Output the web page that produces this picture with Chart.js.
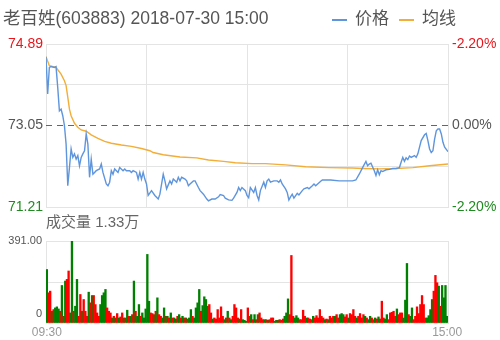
<!DOCTYPE html>
<html>
<head>
<meta charset="utf-8">
<script src="https://cdn.jsdelivr.net/npm/chart.js@4.4.0/dist/chart.umd.min.js"></script>
<style>
  body { margin: 0; background: #fff; font-family: "Liberation Sans", "Noto Sans CJK SC", sans-serif; }
  #wrap { position: relative; width: 500px; height: 340px; overflow: hidden; }
  #title { position: absolute; left: 3px; top: 4px; font-size: 17.5px; color: #555; white-space: nowrap; }
  #legend { position: absolute; left: 332px; top: 4px; font-size: 17px; color: #555; white-space: nowrap; }
  #legend span.key { display: inline-block; width: 15px; height: 2px; vertical-align: middle; margin-right: 8px; }
  #legend span.item { margin-right: 10px; }
  #priceBox { position: absolute; left: 0; top: 0; width: 500px; height: 222px; }
  #volBox { position: absolute; left: 0; top: 212px; width: 500px; height: 128px; }
</style>
</head>
<body>
<div id="wrap">
  <div id="priceBox"><canvas id="priceChart"></canvas></div>
  <div id="volBox"><canvas id="volChart"></canvas></div>
  <div id="title"></div>
  <div id="legend"></div>
</div>
<script>
const chartTitle = "老百姓(603883) 2018-07-30 15:00";
const seriesNames = ["价格", "均线"];
const volumeTitle = "成交量 1.33万";
const timeTicks = ["09:30", "15:00"];

const prevClose = 73.05;
const priceTicks = [71.21, 72.13, 73.05, 73.97, 74.89];
const priceTickLabels = ["71.21", "", "73.05", "", "74.89"];
const pctTickLabels = ["-2.20%", "", "0.00%", "", "-2.20%"];

// minutes after 09:30 (lunch break removed)
const priceMinutes = [0, 1, 2, 3, 5, 6, 7, 8, 9, 10, 11, 12, 13, 14, 15, 16, 17, 18, 19, 20,
  21, 22, 23, 24, 25, 26, 27, 28, 29, 30, 32, 33, 34, 36, 37, 38, 39, 40, 41, 43,
  44, 46, 47, 48, 50, 51, 52, 54, 55, 56, 57, 58, 59, 60, 61, 63, 65, 67, 68, 70,
  71, 72, 74, 75, 76, 78, 79, 80, 81, 83, 84, 85, 86, 88, 89, 91, 92, 94, 96, 97,
  99, 101, 103, 104, 106, 107, 109, 111, 112, 114, 115, 116, 117, 119, 120, 121, 122, 124, 125, 126,
  127, 128, 130, 131, 132, 133, 134, 136, 138, 139, 140, 141, 143, 144, 145, 146, 147, 148, 150, 151,
  153, 154, 156, 157, 159, 160, 161, 164, 165, 170, 175, 180, 183, 185, 187, 189, 191, 192, 193, 194,
  196, 197, 198, 199, 200, 201, 203, 205, 207, 209, 211, 212, 213, 214, 215, 216, 217, 218, 220, 221,
  222, 223, 224, 226, 227, 228, 229, 230, 231, 232, 233, 234, 235, 236, 237, 238, 240];
const prices = [74.60, 73.76, 74.36, 74.38, 74.36, 74.38, 73.91, 73.38, 73.42, 73.27, 73.05, 72.63, 71.69, 72.10, 72.52, 72.33, 72.41, 72.29, 72.37, 72.14,
  72.33, 72.41, 72.48, 72.86, 72.63, 71.88, 72.29, 71.95, 71.99, 72.03, 72.07, 72.18, 71.99, 71.73, 71.69, 71.77, 72.03, 71.95, 72.07, 71.99,
  72.10, 72.03, 72.07, 72.03, 72.03, 71.99, 72.03, 71.99, 71.84, 71.99, 71.84, 71.99, 71.84, 71.73, 71.47, 71.58, 71.47, 71.39, 71.50, 71.95,
  71.80, 71.62, 71.80, 71.73, 71.84, 71.77, 71.88, 71.80, 71.88, 71.84, 71.80, 71.69, 71.73, 71.80, 71.80, 71.65, 71.58, 71.50, 71.39, 71.35,
  71.39, 71.39, 71.44, 71.49, 71.47, 71.41, 71.37, 71.36, 71.41, 71.54, 71.65, 71.58, 71.65, 71.58, 71.47, 71.42, 71.65, 71.54, 71.65, 71.47,
  71.37, 71.58, 71.77, 71.65, 71.80, 71.84, 71.77, 71.80, 71.80, 71.77, 71.82, 71.73, 71.62, 71.54, 71.37, 71.44, 71.50, 71.41, 71.52, 71.48,
  71.58, 71.62, 71.65, 71.62, 71.69, 71.73, 71.69, 71.79, 71.82, 71.82, 71.80, 71.80, 71.80, 71.82, 71.95, 72.10, 72.24, 72.14, 72.18, 72.20,
  72.03, 71.92, 72.05, 71.94, 72.03, 72.01, 72.05, 72.06, 72.08, 72.08, 72.10, 72.22, 72.33, 72.24, 72.32, 72.28, 72.36, 72.33, 72.37, 72.33,
  72.41, 72.56, 72.71, 72.84, 72.87, 72.71, 72.52, 72.44, 72.48, 72.74, 72.93, 72.97, 72.97, 72.86, 72.67, 72.56, 72.46];

const avgMinutes = [0, 2, 6, 9, 11, 12, 13, 14, 15, 17, 19, 21, 24, 27, 31, 35, 39, 45, 51, 57,
  62, 64, 70, 80, 90, 97, 106, 113, 123, 131, 143, 155, 169, 183, 189, 199, 209, 219, 229, 240];
const avgPrices = [74.60, 74.40, 74.36, 74.21, 74.06, 73.95, 73.69, 73.42, 73.27, 73.10, 73.01, 72.95, 72.92, 72.84, 72.76, 72.69, 72.65, 72.61, 72.58, 72.53,
  72.48, 72.44, 72.39, 72.34, 72.32, 72.27, 72.24, 72.21, 72.19, 72.19, 72.16, 72.12, 72.10, 72.09, 72.08, 72.07, 72.08, 72.10, 72.14, 72.18];

// volume per minute, 1 = up (red), 0 = down (green)
const volumes = [255, 144, 152, 56, 64, 72, 77, 67, 56, 179, 32, 200, 208, 248, 48, 391, 56, 80, 208, 32,
  136, 56, 112, 56, 32, 147, 96, 131, 131, 88, 48, 32, 88, 131, 144, 160, 72, 56, 48, 24,
  32, 24, 45, 24, 29, 48, 24, 24, 61, 32, 32, 40, 200, 56, 32, 88, 32, 48, 24, 67,
  327, 104, 48, 45, 40, 56, 120, 40, 32, 24, 72, 32, 32, 24, 48, 24, 24, 19, 32, 40,
  24, 32, 24, 24, 19, 24, 64, 32, 24, 72, 96, 160, 56, 83, 125, 112, 80, 88, 48, 19,
  24, 19, 64, 24, 77, 32, 16, 24, 56, 24, 16, 32, 88, 72, 24, 19, 64, 16, 13, 8,
  72, 32, 40, 16, 40, 16, 40, 48, 24, 16, 16, 16, 13, 16, 24, 24, 8, 13, 13, 16,
  13, 19, 32, 48, 115, 40, 322, 32, 24, 35, 24, 16, 16, 61, 32, 24, 24, 19, 16, 32,
  24, 35, 24, 64, 32, 24, 16, 19, 16, 32, 24, 32, 32, 40, 24, 40, 45, 40, 29, 40,
  24, 45, 40, 64, 32, 24, 32, 45, 24, 40, 32, 24, 16, 32, 24, 16, 24, 19, 29, 19,
  104, 24, 19, 40, 16, 48, 51, 56, 32, 67, 40, 48, 48, 24, 109, 284, 40, 32, 72, 16,
  32, 77, 45, 88, 131, 88, 24, 24, 35, 64, 112, 152, 227, 192, 176, 80, 179, 120, 179, 32];
const volumeUp = [0, 1, 1, 0, 1, 0, 0, 0, 1, 0, 1, 0, 1, 1, 0, 0, 1, 0, 0, 1,
  1, 0, 1, 1, 1, 0, 1, 0, 1, 1, 1, 1, 0, 0, 0, 0, 1, 1, 1, 0,
  1, 0, 1, 0, 1, 1, 0, 1, 0, 1, 0, 1, 0, 1, 0, 0, 1, 0, 0, 0,
  0, 0, 1, 1, 0, 1, 0, 1, 1, 0, 0, 1, 0, 1, 0, 1, 0, 0, 1, 0,
  1, 0, 1, 0, 1, 0, 0, 1, 0, 0, 0, 0, 1, 0, 0, 0, 0, 1, 1, 0,
  1, 1, 1, 1, 1, 1, 0, 1, 0, 1, 0, 1, 1, 1, 1, 0, 1, 0, 0, 0,
  1, 1, 0, 1, 0, 1, 0, 1, 1, 1, 0, 1, 0, 1, 1, 1, 0, 0, 1, 0,
  1, 1, 0, 0, 0, 1, 1, 1, 0, 0, 0, 1, 1, 1, 1, 0, 1, 1, 1, 0,
  1, 1, 1, 1, 1, 1, 0, 1, 0, 1, 1, 1, 0, 1, 1, 0, 0, 0, 1, 1,
  0, 1, 1, 1, 1, 0, 1, 1, 1, 1, 0, 1, 0, 0, 1, 1, 0, 1, 0, 1,
  1, 1, 0, 0, 1, 1, 1, 1, 1, 0, 1, 1, 1, 0, 0, 0, 1, 0, 0, 1,
  1, 1, 1, 1, 1, 1, 1, 0, 0, 0, 0, 1, 1, 1, 0, 1, 0, 0, 0, 0];
const volumeMax = 391;
const volumeTicks = [0, 43, 195.5, 391];
const volumeTickLabels = ["", "0", "", "391.00"];

const blue = "#5f95dc";
const orange = "#f2ae38";
const up = "#ff0000";
const down = "#008000";
const gridColor = "#e4e4e4";
const textColor = "#555";
const fontFamily = "'Liberation Sans', 'Noto Sans CJK SC', sans-serif";

document.getElementById("title").innerText = chartTitle;
const legendBox = document.getElementById("legend");
[blue, orange].forEach((color, i) => {
  const item = document.createElement("span");
  item.classList.add("item");
  const key = document.createElement("span");
  key.classList.add("key");
  key.style.background = color;
  item.appendChild(key);
  item.appendChild(document.createTextNode(seriesNames[i]));
  legendBox.appendChild(item);
});

const toPoints = (xs, ys) => xs.map((x, i) => ({ x: x, y: ys[i] }));
const priceTickColors = ["#1f8a1f", textColor, textColor, textColor, "#e8161c"];

const priceChart = new Chart(document.getElementById("priceChart"), {
  type: "line",
  data: {
    datasets: [
      { label: seriesNames[0], data: toPoints(priceMinutes, prices), borderColor: blue, borderWidth: 1.4, pointRadius: 0, yAxisID: "y" },
      { label: seriesNames[1], data: toPoints(avgMinutes, avgPrices), borderColor: orange, borderWidth: 1.4, pointRadius: 0, yAxisID: "y" },
      { label: "prev", data: [{ x: 0, y: prevClose }, { x: 240, y: prevClose }], borderColor: "#666", borderWidth: 1.2, borderDash: [6, 5], pointRadius: 0, yAxisID: "y" },
    ],
  },
  options: {
    responsive: true,
    maintainAspectRatio: false,
    animation: false,
    layout: { padding: { top: 44, bottom: 15 } },
    plugins: { legend: { display: false }, tooltip: { enabled: false } },
    scales: {
      x: {
        type: "linear", min: 0, max: 240,
        ticks: { display: false, stepSize: 60 },
        grid: { color: gridColor, drawTicks: false },
        border: { color: gridColor },
      },
      y: {
        position: "left", min: priceTicks[0], max: priceTicks[priceTicks.length - 1],
        afterBuildTicks: (scale) => { scale.ticks = priceTicks.map((v) => ({ value: v })); },
        afterFit: (scale) => { scale.width = 46; },
        ticks: {
          padding: 3,
          font: { size: 14, family: fontFamily },
          color: (ctx) => priceTickColors[ctx.index],
          callback: (v, i) => priceTickLabels[i],
        },
        grid: { drawTicks: false, color: (ctx) => (ctx.tick && ctx.tick.value === prevClose ? "rgba(0,0,0,0)" : gridColor) },
        border: { color: gridColor },
      },
      y2: {
        position: "right", min: priceTicks[0], max: priceTicks[priceTicks.length - 1],
        afterBuildTicks: (scale) => { scale.ticks = priceTicks.map((v) => ({ value: v })); },
        afterFit: (scale) => { scale.width = 52; },
        ticks: {
          padding: 4,
          font: { size: 14, family: fontFamily },
          color: (ctx) => priceTickColors[ctx.index],
          callback: (v, i) => pctTickLabels[i],
        },
        grid: { display: false, drawTicks: false },
        border: { display: false },
      },
    },
  },
});

const volChart = new Chart(document.getElementById("volChart"), {
  type: "bar",
  data: {
    labels: volumes.map((v, i) => i),
    datasets: [{
      data: volumes,
      backgroundColor: volumeUp.map((u) => (u ? up : down)),
      barPercentage: 1,
      categoryPercentage: 1,
    }],
  },
  options: {
    responsive: true,
    maintainAspectRatio: false,
    animation: false,
    plugins: {
      legend: { display: false },
      tooltip: { enabled: false },
      title: {
        display: true, text: volumeTitle, align: "start", fullSize: false,
        color: "#666", font: { size: 15, family: fontFamily, weight: "normal" },
        padding: { top: 2, bottom: 9 },
      },
    },
    scales: {
      x: {
        grid: { display: false, drawTicks: false },
        border: { color: gridColor },
        afterFit: (scale) => { scale.height = 17; },
        ticks: {
          autoSkip: false, maxRotation: 0, padding: 2,
          color: "#999", font: { size: 12, family: fontFamily },
          callback: (v, i) => (i === 0 ? timeTicks[0] : i === volumes.length - 1 ? timeTicks[1] : ""),
        },
      },
      y: {
        min: 0, max: volumeMax,
        afterBuildTicks: (scale) => { scale.ticks = volumeTicks.map((v) => ({ value: v })); },
        afterFit: (scale) => { scale.width = 46; },
        ticks: {
          padding: 4, color: textColor, font: { size: 11, family: fontFamily },
          callback: (v, i) => volumeTickLabels[i],
        },
        grid: { drawTicks: false, color: (ctx) => (ctx.tick && ctx.tick.value === 43 ? "rgba(0,0,0,0)" : gridColor) },
        border: { color: gridColor },
      },
      yr: {
        position: "right", min: 0, max: volumeMax,
        afterFit: (scale) => { scale.width = 52; },
        ticks: { display: false },
        grid: { display: false, drawTicks: false },
        border: { color: gridColor },
      },
    },
  },
});
</script>
</body>
</html>
